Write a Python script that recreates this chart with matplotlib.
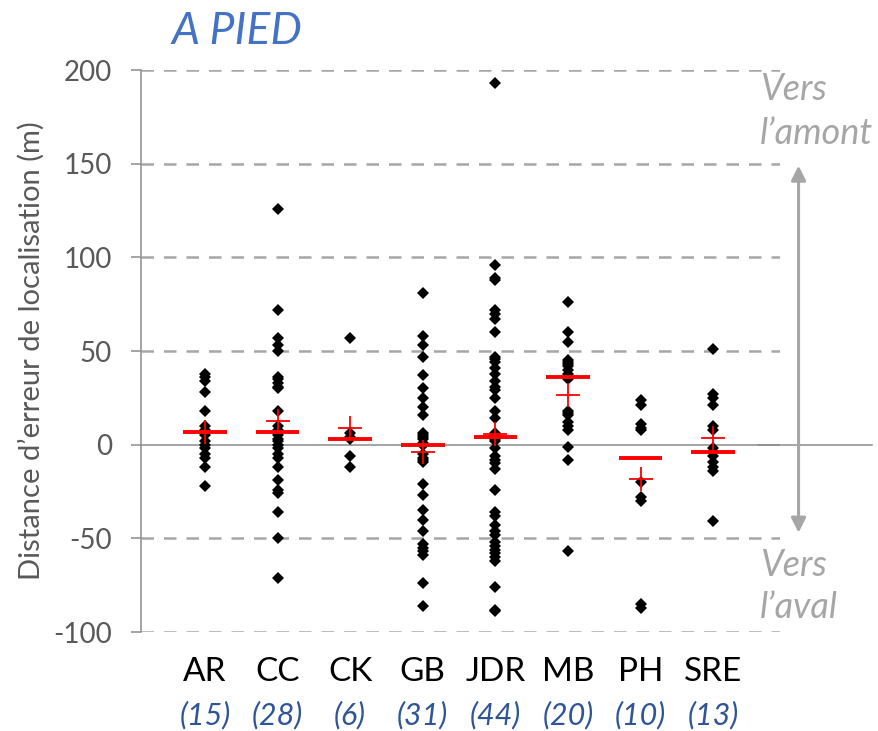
import numpy as np
import matplotlib
matplotlib.use("Agg")
import matplotlib.pyplot as plt

plt.rcParams['font.family'] = ['Lato', 'DejaVu Sans']
plt.rcParams['axes.unicode_minus'] = False

# categories and counts
groups = ['AR', 'CC', 'CK', 'GB', 'JDR', 'MB', 'PH', 'SRE']
counts = ['(15)', '(28)', '(6)', '(31)', '(44)', '(20)', '(10)', '(13)']

# individual errors (m)
ar = [38, 36, 34, 28, 18, 10, 8, 5, 2, 0, -2, -5, -7, -12, -22]
cc = [126, 72, 57, 53, 50, 36, 35, 33, 31, 30, 18, 10, 8, 6, 5, 3, 2, 0,
      -2, -5, -7, -12, -19, -24, -26, -36, -50, -71]
ck = [57, 6, 4, 3, -6, -12]
gb = [81, 58, 53, 47, 37, 30, 25, 20, 16, 6, 5, 4, 3, 1, 0, 0, -5, -7, -8,
      -9, -21, -27, -35, -40, -46, -53, -55, -57, -59, -74, -86]
jdr = [193, 96, 89, 88, 72, 70, 67, 60, 47, 46, 44, 41, 38, 34, 31, 29, 25,
       18, 14, 6, 5, 4, 3, 2, -2, -6, -8, -10, -13, -24, -36, -38, -43, -46,
       -48, -52, -54, -56, -58, -60, -62, -76, -88, -89]
mb = [76, 60, 55, 45, 44, 43, 42, 40, 38, 36, 35, 18, 17, 16, 12, 10, 8, -1,
      -8, -57]
ph = [24, 21, 11, 9, 8, -20, -28, -30, -85, -87]
sre = [51, 27, 25, 21, 10, 8, -2, -4, -6, -9, -12, -14, -41]
series = [ar, cc, ck, gb, jdr, mb, ph, sre]

# red markers: median (bar) and mean (+)
medians = [7, 7, 3, 0, 4, 36, -7, -4]
means = [7, 12.5, 8.7, -3.7, 5.5, 26.4, -18.3, 3.4]

grey_txt = '#595959'
grid_c = '#A6A6A6'

fig = plt.figure(figsize=(8.79, 7.31), dpi=100)
ax = fig.add_axes([0.1604, 0.1354, 0.7270, 0.7688])

x = np.arange(len(groups))
for i, vals in enumerate(series):
    ax.plot([x[i]] * len(vals), vals, 'D', color='black', markersize=5.8,
            markeredgewidth=0, zorder=3)

ax.hlines(medians, x - 0.3, x + 0.3, colors='#FF0000', linewidth=2.8, zorder=4)
ax.plot(x, means, '+', color='#FF0000', markersize=17, markeredgewidth=1.3,
        zorder=5, linestyle='none')

# grid and zero line
for yv in [-100, -50, 50, 100, 150, 200]:
    ax.axhline(yv, color=grid_c, linewidth=1.8, dashes=(5, 4), zorder=1)
ax.axhline(0, color='#8C8C8C', linewidth=1.1, zorder=2)

ax.set_ylim(-100, 200)
ax.set_xlim(-0.88, 7.92)
ax.set_yticks([-100, -50, 0, 50, 100, 150, 200])
ax.set_xticks([])
for s in ['top', 'right', 'bottom']:
    ax.spines[s].set_visible(False)
ax.spines['left'].set_color('#8C8C8C')
ax.spines['left'].set_linewidth(1.1)
ax.tick_params(axis='y', colors='#8C8C8C', labelcolor=grey_txt, length=7,
               width=1.1, labelsize=20, pad=14)

ax.set_ylabel("Distance d\u2019erreur de localisation (m)", fontsize=21,
              color=grey_txt, labelpad=6)

# category labels and counts below the axis
trans = ax.get_xaxis_transform()
for i in range(len(groups)):
    ax.text(x[i], -0.072, groups[i], transform=trans, ha='center', va='center',
            fontsize=24, color='black')
    ax.text(x[i], -0.148, counts[i], transform=trans, ha='center', va='center',
            fontsize=22, color='#2F5597', style='italic')

# title
fig.text(237 / 879, 1 - 32 / 731, 'A PIED', ha='center', va='center',
         fontsize=32, color='#4472C4', style='italic')

# right-side direction annotation
ytr = ax.get_yaxis_transform()
ax.plot([0.9656, 1.144], [0, 0], color='#8C8C8C', linewidth=1.1,
        transform=ytr, clip_on=False)
ax.annotate('', xy=(1.029, 149), xytext=(1.029, 0), xycoords=ytr,
            textcoords=ytr,
            arrowprops=dict(arrowstyle='-|>', color='#A6A6A6', lw=2.2,
                            mutation_scale=22, shrinkA=0, shrinkB=0))
ax.annotate('', xy=(1.029, -47), xytext=(1.029, 0), xycoords=ytr,
            textcoords=ytr,
            arrowprops=dict(arrowstyle='-|>', color='#A6A6A6', lw=2.2,
                            mutation_scale=22, shrinkA=0, shrinkB=0))
for txt, yy in [('Vers', 90), ('l\u2019amont', 133), ('Vers', 565),
                ('l\u2019aval', 607)]:
    fig.text(760 / 879, 1 - yy / 731, txt, ha='left', va='center',
             fontsize=26, color='#A6A6A6', style='italic')

fig.savefig('out.png', dpi=100)
